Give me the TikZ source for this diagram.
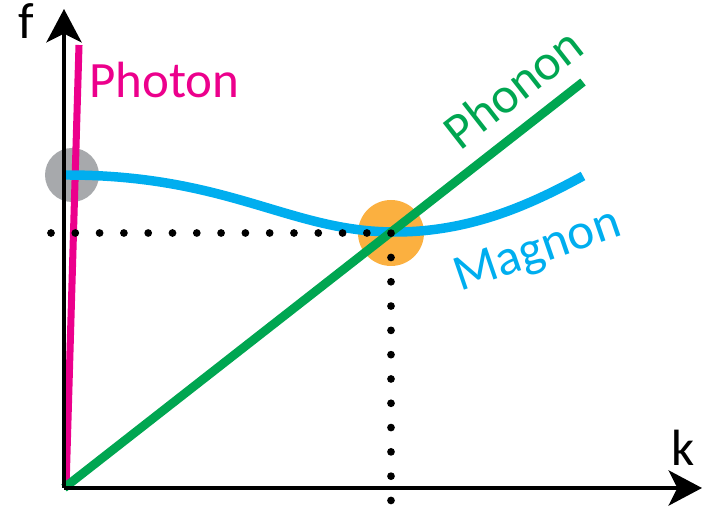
\documentclass[tikz,border=0pt]{standalone}
\usepackage{fontspec}
\setmainfont{Carlito}
\usetikzlibrary{arrows.meta}
\definecolor{photoncol}{HTML}{EC008C}
\definecolor{magnoncol}{HTML}{00AEEF}
\definecolor{phononcol}{HTML}{00A651}
\definecolor{crosscol}{HTML}{FBB040}
\definecolor{edgecol}{HTML}{A7A9AC}
\begin{document}
\begin{tikzpicture}[x=0.02cm,y=-0.02cm,
  axis/.style={line width=2.4pt,-{Stealth[length=19pt,width=20pt,inset=5pt]}},
  branch/.style={line width=5pt},
  dotline/.style={line width=4.4pt,line cap=round,dash pattern=on 0pt off 13.83pt},
  lbl/.style={font=\fontsize{29}{35}\selectfont,inner sep=0pt}]
\useasboundingbox (0,0) rectangle (711,509);

   \coordinate (O) at (64,488);
   \coordinate (ftop) at (64,9);
   \coordinate (kend) at (702,488);
   \coordinate (X) at (391,233);

   % crossings
   \fill[edgecol] (72,175) circle (27);
   \fill[crosscol] (X) circle (33);

   % branches
   \coordinate (photonend) at (79,45);
   \draw[photoncol,line width=4pt] (66,488) -- (photonend);
   \coordinate (magnonstart) at (66,175);
   \coordinate (magnonend) at (583,176);
   \draw[magnoncol,branch,line width=5.4pt] (magnonstart) .. controls (230,175) and (290,232) .. (395,232)
        .. controls (470,232) and (530,205) .. (magnonend);
   \coordinate (phononend) at (583,82);
   \draw[phononcol,branch] (O) -- (phononend);

   % axes
   \draw[axis] (O) -- (ftop);
   \draw[axis] (O) -- (kend);
   \node[lbl] at (26,21) (f) {f};
   \node[lbl] at (683,448) (k) {k};

   % dotted guide
   \coordinate (hstart) at (51,233);
   \coordinate (vend) at (391,501);
   \draw[dotline] (hstart) -- (X) -- (vend);

   \node[lbl,anchor=base west,text=photoncol] at (89,98) (photonlbl) {Photon};
   \node[lbl,rotate=38,text=phononcol] at (513,88) (phononlbl) {Phonon};
   \node[lbl,rotate=19,text=magnoncol] at (538,252) (magnonlbl) {Magnon};

\end{tikzpicture}
\end{document}
